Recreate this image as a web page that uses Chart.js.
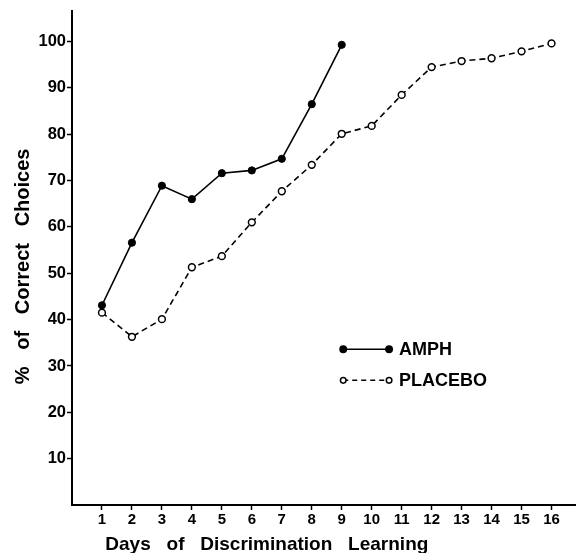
<!DOCTYPE html>
<html>
<head>
<meta charset="utf-8">
<script src="https://cdn.jsdelivr.net/npm/chart.js@4/dist/chart.umd.min.js"></script>
<style>
  html, body { margin: 0; padding: 0; background: #fff; }
  #wrap { width: 581px; height: 553px; }
</style>
</head>
<body>
<div id="wrap"><canvas id="learningChart"></canvas></div>
<script>
// Dane
const days = [1, 2, 3, 4, 5, 6, 7, 8, 9, 10, 11, 12, 13, 14, 15, 16];
const amphValues = [43.1, 56.6, 68.9, 66.0, 71.6, 72.2, 74.7, 86.5, 99.3];
const placeboValues = [41.5, 36.3, 40.1, 51.3, 53.7, 61.0, 67.7, 73.4, 80.1, 81.8, 88.5, 94.5, 95.8, 96.4, 97.9, 99.6];
const yTicks = [10, 20, 30, 40, 50, 60, 70, 80, 90, 100];
const seriesNames = ['AMPH', 'PLACEBO'];
const xTitle = 'Days   of   Discrimination   Learning';
const yTitle = '%   of   Correct   Choices';

const FONT = '"Liberation Sans", Arial, sans-serif';

// Legenda i tytuły osi rysowane ręcznie
const annotations = {
  id: 'annotations',
  afterDraw(chart) {
    const { ctx, scales: { x, y } } = chart;
    ctx.save();
    ctx.fillStyle = '#000';
    ctx.textAlign = 'center';
    ctx.textBaseline = 'middle';

    // Tytuł osi X
    ctx.font = 'bold 19px ' + FONT;
    ctx.fillText(xTitle, x.getPixelForValue(6.5), 545);

    // Tytuł osi Y (obrócony)
    ctx.save();
    ctx.translate(23, y.getPixelForValue(51.5));
    ctx.rotate(-Math.PI / 2);
    ctx.font = 'bold 20px ' + FONT;
    ctx.fillText(yTitle, 0, 0);
    ctx.restore();

    // Legenda
    const x0 = x.getPixelForValue(9.05);
    const x1 = x.getPixelForValue(10.58);
    const rows = [y.getPixelForValue(33.6), y.getPixelForValue(26.9)];
    rows.forEach((ry, i) => {
      ctx.strokeStyle = '#000';
      ctx.lineWidth = 1.5;
      ctx.setLineDash(i === 0 ? [] : [5, 4]);
      ctx.beginPath();
      ctx.moveTo(x0, ry);
      ctx.lineTo(x1, ry);
      ctx.stroke();
      ctx.setLineDash([]);
      [x0, x1].forEach(px => {
        ctx.beginPath();
        ctx.arc(px, ry, i === 0 ? 3.2 : 2.8, 0, Math.PI * 2);
        ctx.fillStyle = i === 0 ? '#000' : '#fff';
        ctx.fill();
        ctx.stroke();
      });
      ctx.fillStyle = '#000';
      ctx.font = 'bold 18px ' + FONT;
      ctx.textAlign = 'left';
      ctx.fillText(seriesNames[i], x1 + 10, ry + 1);
    });
    ctx.restore();
  }
};

function initLearningChart() {
  const ctx = document.getElementById('learningChart');
  if (!ctx) return;

  new Chart(ctx, {
    type: 'line',
    data: {
      datasets: [{
        label: seriesNames[0],
        data: amphValues.map((v, i) => ({ x: days[i], y: v })),
        borderColor: '#000',
        borderWidth: 1.6,
        pointRadius: 3.6,
        pointBackgroundColor: '#000',
        pointBorderColor: '#000',
        pointBorderWidth: 1,
        tension: 0
      }, {
        label: seriesNames[1],
        data: placeboValues.map((v, i) => ({ x: days[i], y: v })),
        borderColor: '#000',
        borderWidth: 1.6,
        borderDash: [6, 4],
        pointRadius: 3.4,
        pointBackgroundColor: '#fff',
        pointBorderColor: '#000',
        pointBorderWidth: 1.5,
        tension: 0
      }]
    },
    options: {
      responsive: true,
      maintainAspectRatio: false,
      animation: false,
      layout: { padding: { top: 11, right: 3, left: 4, bottom: 0 } },
      plugins: {
        legend: { display: false },
        tooltip: { enabled: false }
      },
      scales: {
        x: {
          type: 'linear',
          min: 0,
          max: 16.8,
          afterBuildTicks: s => { s.ticks = days.map(v => ({ value: v })); },
          afterFit: s => { s.height = 48; },
          grid: { drawOnChartArea: false, drawTicks: true, tickLength: 5, tickColor: '#000', tickWidth: 1.5 },
          border: { color: '#000', width: 2 },
          ticks: { color: '#000', padding: 1, autoSkip: false, maxRotation: 0, font: { family: FONT, size: 15, weight: 'bold' } }
        },
        y: {
          min: 0,
          max: 106.6,
          afterBuildTicks: s => { s.ticks = yTicks.map(v => ({ value: v })); },
          afterFit: s => { s.width = 68; },
          grid: { drawOnChartArea: false, drawTicks: true, tickLength: 5, tickColor: '#000', tickWidth: 1.5 },
          border: { color: '#000', width: 2 },
          ticks: { color: '#000', padding: 1, font: { family: FONT, size: 16.5, weight: 'bold' } }
        }
      }
    },
    plugins: [annotations]
  });
}

document.addEventListener('DOMContentLoaded', initLearningChart);
</script>
</body>
</html>
